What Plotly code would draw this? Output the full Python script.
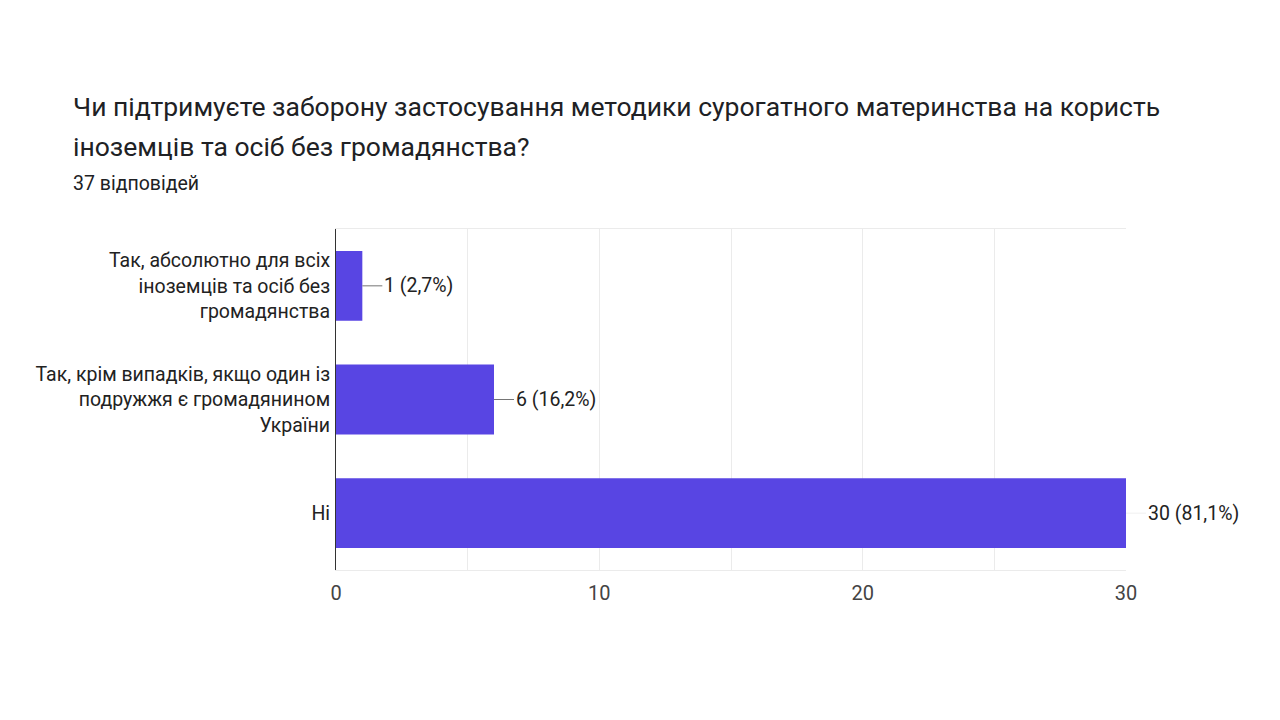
import plotly.graph_objects as go

# дані з форми
categories = [
    "Так, абсолютно для всіх<br>іноземців та осіб без<br>громадянства",
    "Так, крім випадків, якщо один із<br>подружжя є громадянином<br>України",
    "Ні",
]
counts = [1, 6, 30]
total = 37
title_lines = [
    "Чи підтримуєте заборону застосування методики сурогатного материнства на користь",
    "іноземців та осіб без громадянства?",
]
subtitle = f"{total} відповідей"
x_ticks = [0, 10, 20, 30]

FONT = "Roboto, Arial, sans-serif"
BAR = "#5845e3"

def pct(v):
    return f"{v} ({v / total * 100:.1f}%)".replace(".", ",")

fig = go.Figure(go.Bar(
    x=counts, y=categories, orientation="h",
    marker=dict(color=BAR, line=dict(width=0)),
    width=0.614, hoverinfo="skip",
))

# підписи значень з короткою лінією-виноскою
for cat, v in zip(categories, counts):
    last = v == max(counts)
    fig.add_annotation(
        x=v, y=cat, xref="x", yref="y",
        text=pct(v), showarrow=True, arrowhead=0, arrowwidth=1,
        arrowcolor="#f0f0f0" if last else "#757575",
        ax=20, ay=0, xanchor="left", standoff=0,
        font=dict(family=FONT, size=19.5, color="#222222"),
    )

# сторінка зсуває фігуру на ~8px (відступ body)
OFF = 8
W, H = 1280, 720
ml, mr, mt, mb = 336 - OFF, 154 + OFF, 229 - OFF, 150 + OFF
pw, ph = W - ml - mr, H - mt - mb

def px(x, y):
    # пікселі екрана -> paper
    return (x - OFF - ml) / pw, 1 - (y - OFF - mt) / ph

# заголовок у два рядки + кількість відповідей
for k, line in enumerate(title_lines):
    x, y = px(71, 107 + 39 * k)
    fig.add_annotation(
        x=x, y=y, xref="paper", yref="paper", text=line,
        showarrow=False, xanchor="left", yanchor="middle",
        font=dict(family=FONT, size=26.5, color="#202124"),
    )
x, y = px(71, 183)
fig.add_annotation(
    x=x, y=y, xref="paper", yref="paper", text=subtitle,
    showarrow=False, xanchor="left", yanchor="middle",
    font=dict(family=FONT, size=19.5, color="#202124"),
)

fig.update_layout(
    width=W, height=H,
    margin=dict(l=ml, r=mr, t=mt, b=mb),
    paper_bgcolor="white", plot_bgcolor="white",
    showlegend=False,
    font=dict(family=FONT, color="#444444"),
)
fig.update_xaxes(
    range=[0, 30], tickvals=x_ticks, ticktext=[str(t) for t in x_ticks],
    showgrid=True, gridcolor="#ebebeb", gridwidth=1,
    minor=dict(dtick=5, showgrid=True, gridcolor="#ebebeb"),
    showline=True, linecolor="#ebebeb", mirror=True, zeroline=False,
    ticks="", tickfont=dict(family=FONT, size=20, color="#444444"),
    ticklabelstandoff=5,
)
fig.update_yaxes(
    autorange="reversed", range=[-0.5, 2.5],
    showline=True, linecolor="#333333", linewidth=1,
    showgrid=False, ticks="", ticklabelstandoff=1,
    tickfont=dict(family=FONT, size=19.5, color="#222222"),
)

fig.write_html("out.html")
